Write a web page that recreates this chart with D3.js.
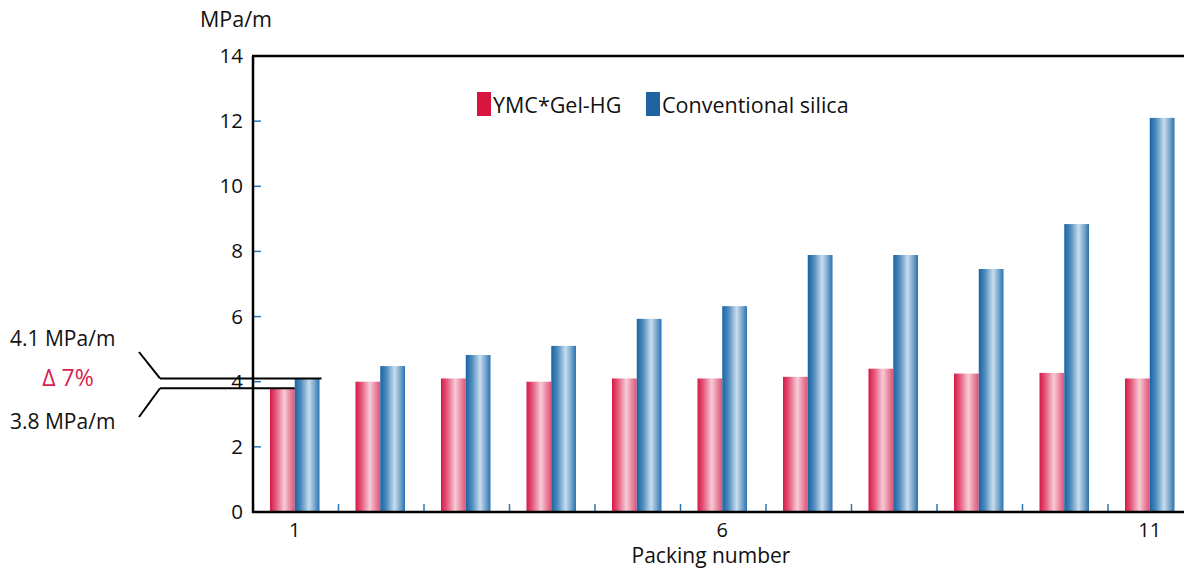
<!DOCTYPE html>
<html><head><meta charset="utf-8">
<script src="https://cdn.jsdelivr.net/npm/d3@7"></script>
<style>body{margin:0;background:#fff}svg{display:block;font-family:"Open Sans","Noto Sans",sans-serif}</style>
</head><body>
<svg id="c" width="1184" height="570"></svg>
<script>
const packing = [1,2,3,4,5,6,7,8,9,10,11];
const xTickLabels = [1,6,11];
const seriesNames = ["YMC*Gel-HG","Conventional silica"];
const ymcValues = [3.8,4.0,4.1,4.0,4.1,4.1,4.15,4.4,4.25,4.27,4.1];
const convValues = [4.1,4.48,4.82,5.1,5.93,6.32,7.89,7.89,7.46,8.84,12.1];
const yTicks = [0,2,4,6,8,10,12,14];
const annot = {top:"4.1 MPa/m", mid:"Δ 7%", bottom:"3.8 MPa/m"};

const svg = d3.select("#c");
const x0 = 253, yTop = 56, yBot = 512;
const x = d3.scaleBand().domain(packing).range([x0, x0 + 85.5*11]).padding(0);
const xs = d3.scaleBand().domain([0,1]).range([17, x.bandwidth()-19]).padding(0);
const y = d3.scaleLinear().domain([0,14]).range([yBot, yTop]);

const defs = svg.append("defs");
function grad(id, stops){
  const g = defs.append("linearGradient").attr("id",id).attr("x1","0").attr("x2","1").attr("y1","0").attr("y2","0");
  stops.forEach(s=>g.append("stop").attr("offset",s[0]).attr("stop-color",s[1]));
}
grad("gRed",[[0,"#d51847"],[0.25,"#e55c7d"],[0.58,"#f6ccd8"],[0.8,"#ea8aa2"],[1,"#df5275"]]);
grad("gBlue",[[0,"#1a64a3"],[0.25,"#4d8bbd"],[0.58,"#c9dded"],[0.8,"#78a8cf"],[1,"#2c72ae"]]);

// bars
const data = packing.map((p,i)=>({p, v:[ymcValues[i], convValues[i]]}));
const g = svg.append("g");
g.selectAll("g.grp").data(data).join("g").attr("class","grp")
 .attr("transform",d=>`translate(${x(d.p)},0)`)
 .selectAll("rect").data(d=>d.v.map((v,k)=>({v,k}))).join("rect")
 .attr("x",d=>xs(d.k)).attr("width",xs.bandwidth())
 .attr("y",d=>y(d.v)).attr("height",d=>yBot-y(d.v))
 .attr("fill",d=>d.k===0?"url(#gRed)":"url(#gBlue)");

// y axis ticks (inside, blue)
svg.append("g").selectAll("line").data(yTicks.filter(t=>t>0&&t<14)).join("line")
 .attr("x1",x0).attr("x2",x0+8).attr("y1",d=>y(d)).attr("y2",d=>y(d))
 .attr("stroke","#2a77b5").attr("stroke-width",1.5);
svg.append("g").selectAll("text").data(yTicks).join("text")
 .attr("x",243).attr("y",d=>y(d)+7).attr("text-anchor","end")
 .attr("font-size",20.5).attr("fill","#111").text(d=>d);

// x ticks at band boundaries
svg.append("g").selectAll("line").data(packing.slice(1)).join("line")
 .attr("x1",d=>x(d)).attr("x2",d=>x(d)).attr("y1",yBot).attr("y2",yBot-8)
 .attr("stroke","#2a77b5").attr("stroke-width",1.5);
svg.append("g").selectAll("text").data(xTickLabels).join("text")
 .attr("x",d=>x(d)+x.bandwidth()/2-1).attr("y",537).attr("text-anchor","middle")
 .attr("font-size",20).attr("fill","#111").text(d=>d);

// axes frame
svg.append("line").attr("x1",x0).attr("x2",x0).attr("y1",yTop).attr("y2",yBot+1).attr("stroke","#000").attr("stroke-width",2.5);
svg.append("line").attr("x1",x0-1).attr("x2",1184).attr("y1",yBot).attr("y2",yBot).attr("stroke","#000").attr("stroke-width",2.5);
svg.append("line").attr("x1",x0-1).attr("x2",1184).attr("y1",yTop).attr("y2",yTop).attr("stroke","#000").attr("stroke-width",2.5);

svg.append("text").attr("x",200).attr("y",27).attr("font-size",21.5).attr("fill","#111").text("MPa/m");
svg.append("text").attr("x",711).attr("y",563).attr("text-anchor","middle").attr("font-size",21).attr("fill","#111").text("Packing number");

// legend
const leg = [{n:seriesNames[0],c:"#d7153f",x:477},{n:seriesNames[1],c:"#1f63a3",x:646}];
leg.forEach(l=>{
  svg.append("rect").attr("x",l.x).attr("y",92).attr("width",14).attr("height",24).attr("fill",l.c);
  svg.append("text").attr("x",l.x+16).attr("y",113).attr("font-size",21.5).attr("fill","#111").text(l.n);
});

// annotation
const yA = y(ymcValues[0]), yB = y(convValues[0]);
const xA = x(1)+xs(0)+xs.bandwidth(), xB = x(1)+xs(1)+xs.bandwidth();
svg.append("line").attr("x1",160).attr("x2",xB+2).attr("y1",yB).attr("y2",yB).attr("stroke","#000").attr("stroke-width",2);
svg.append("line").attr("x1",160).attr("x2",xA).attr("y1",yA).attr("y2",yA).attr("stroke","#000").attr("stroke-width",2);
svg.append("line").attr("x1",139).attr("y1",352).attr("x2",160).attr("y2",yB).attr("stroke","#000").attr("stroke-width",2);
svg.append("line").attr("x1",139).attr("y1",417).attr("x2",160).attr("y2",yA).attr("stroke","#000").attr("stroke-width",2);
svg.append("text").attr("x",10).attr("y",346).attr("font-size",21).attr("fill","#111").text(annot.top);
svg.append("text").attr("x",10).attr("y",429).attr("font-size",21).attr("fill","#111").text(annot.bottom);
svg.append("text").attr("x",68).attr("y",386).attr("text-anchor","middle").attr("font-size",23).attr("fill","#d9224f").text(annot.mid);
</script>
</body></html>
